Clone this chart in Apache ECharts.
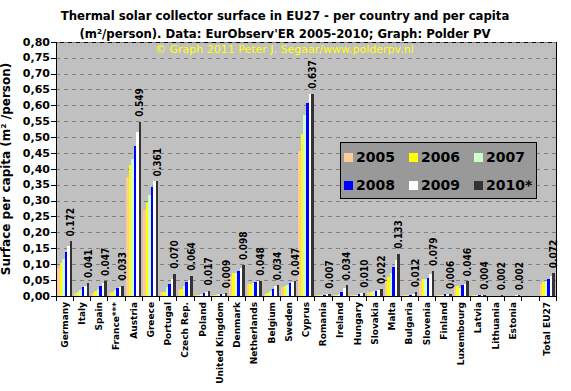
<!DOCTYPE html>
<html><head><meta charset="utf-8">
<script src="https://cdn.jsdelivr.net/npm/echarts@6/dist/echarts.min.js"></script>
<style>html,body{margin:0;padding:0;background:#fff}#c{width:571px;height:391px}
#c svg path{shape-rendering:crispEdges}</style>
</head><body><div id="c"></div>
<script>
var categories = ["Germany","Italy","Spain","France***","Austria","Greece","Portugal","Czech Rep.","Poland","United Kingdom","Denmark","Netherlands","Belgium","Sweden","Cyprus","Romania","Ireland","Hungary","Slovakia","Malta","Bulgaria","Slovenia","Finland","Luxembourg","Latvia","Lithuania","Estonia","","Total EU27"];
var years = ["2005","2006","2007","2008","2009","2010*"];
var colors = ["#FFCC99","#FFFF00","#CCFFCC","#0000FF","#FFFFFF","#333333"];
var v2005 = [0.089,0.010,0.011,0.008,0.374,0.271,0.013,0.019,0.003,0.003,0.063,0.038,0.005,0.027,0.458,0.002,0.002,0.002,0.014,0.048,0.004,0.048,0.002,0.029,0.002,0.001,0.001,null,0.038];
var v2006 = [0.104,0.013,0.015,0.013,0.413,0.292,0.013,0.022,0.004,0.004,0.071,0.039,0.010,0.030,0.510,0.002,0.003,0.003,0.014,0.061,0.004,0.052,0.002,0.030,0.002,0.001,0.001,null,0.044];
var v2007 = [0.116,0.018,0.022,0.018,0.431,0.317,0.027,0.031,0.006,0.005,0.074,0.041,0.016,0.034,0.570,0.003,0.006,0.004,0.016,0.073,0.003,0.055,0.003,0.026,0.002,0.001,0.001,null,0.048];
var v2008 = [0.140,0.028,0.033,0.026,0.472,0.342,0.038,0.043,0.009,0.006,0.080,0.045,0.023,0.040,0.609,0.004,0.013,0.006,0.017,0.092,0.002,0.058,0.005,0.034,0.003,0.001,0.001,null,0.055];
var v2009 = [0.157,0.030,0.040,0.027,0.516,0.363,0.052,0.050,0.012,0.006,0.087,0.046,0.030,0.043,0.637,0.006,0.025,0.008,0.019,0.113,0.006,0.070,0.005,0.038,0.003,0.001,0.002,null,0.063];
var v2010 = [0.172,0.041,0.047,0.033,0.549,0.361,0.070,0.064,0.017,0.009,0.098,0.048,0.034,0.047,0.637,0.007,0.034,0.010,0.022,0.133,0.012,0.079,0.006,0.046,0.004,0.002,0.002,null,0.072];
var yTicks = {min:0,max:0.8,interval:0.05};

var allData = [v2005,v2006,v2007,v2008,v2009,v2010];
var chart = echarts.init(document.getElementById('c'),null,{renderer:'svg'});
var series = allData.map(function(d,i){
  var s = {name:years[i],type:'bar',data:d,barGap:'0%',barCategoryGap:'12%',
    itemStyle:{color:colors[i]},animation:false};
  if(i===5){
    s.label={show:true,position:'top',rotate:90,align:'left',verticalAlign:'middle',distance:5,
      fontFamily:'DejaVu Sans Condensed, DejaVu Sans Mono',fontWeight:'bold',fontSize:10,color:'#000',
      formatter:function(p){return p.value==null?'':p.value.toFixed(3);}};
  }
  return s;
});
chart.setOption({
  animation:false,
  title:{text:"Thermal solar collector surface in EU27 - per country and per capita\n(m\u00b2/person). Data: EurObserv'ER 2005-2010; Graph: Polder PV",
    left:280,top:1,textAlign:'center',
    textStyle:{fontFamily:'DejaVu Sans Condensed, DejaVu Sans',fontWeight:'bold',fontSize:13,lineHeight:18,color:'#000'}},
  legend:{data:years,left:340,top:142,width:205,height:55,padding:[8,4,6,4],
    backgroundColor:'#999999',borderColor:'#000',borderWidth:1,
    itemWidth:9,itemHeight:9,itemGap:14,icon:'rect',
    textStyle:{fontFamily:'DejaVu Sans',fontWeight:'bold',fontSize:14,color:'#000',padding:[0,0,0,-2]},
    itemStyle:{borderWidth:0}},
  grid:{left:56,right:15,top:42,bottom:95,outerBoundsMode:'none',containLabel:false,show:true,backgroundColor:'#C0C0C0',borderColor:'#000',borderWidth:1},
  xAxis:{type:'category',data:categories,
    axisLine:{lineStyle:{color:'#000',width:1}},
    axisTick:{show:true,alignWithLabel:false,length:5,lineStyle:{color:'#000'}},
    axisLabel:{rotate:90,interval:0,fontFamily:'DejaVu Sans',fontWeight:'bold',fontSize:9,color:'#000',margin:6}},
  yAxis:{type:'value',min:yTicks.min,max:yTicks.max,interval:yTicks.interval,
    name:'Surface per capita (m\u00b2 /person)',nameLocation:'middle',nameGap:40,
    nameTextStyle:{fontFamily:'DejaVu Sans',fontWeight:'bold',fontSize:12,color:'#000'},
    axisLine:{show:true,lineStyle:{color:'#000'}},
    axisTick:{show:true,length:5,lineStyle:{color:'#000'}},
    splitLine:{lineStyle:{color:'#808080',type:[4,4],width:1}},
    axisLabel:{fontFamily:'DejaVu Sans',fontWeight:'bold',fontSize:11,color:'#000',margin:6,
      formatter:function(v){return v.toFixed(2).replace('.',',');}}},
  graphic:[{type:'text',left:155,top:44,style:{text:'\u00a9 Graph 2011 Peter J. Segaar/www.polderpv.nl',
    fill:'#FFFF00',font:'11px DejaVu Sans'}}],
  series:series
});
</script></body></html>
